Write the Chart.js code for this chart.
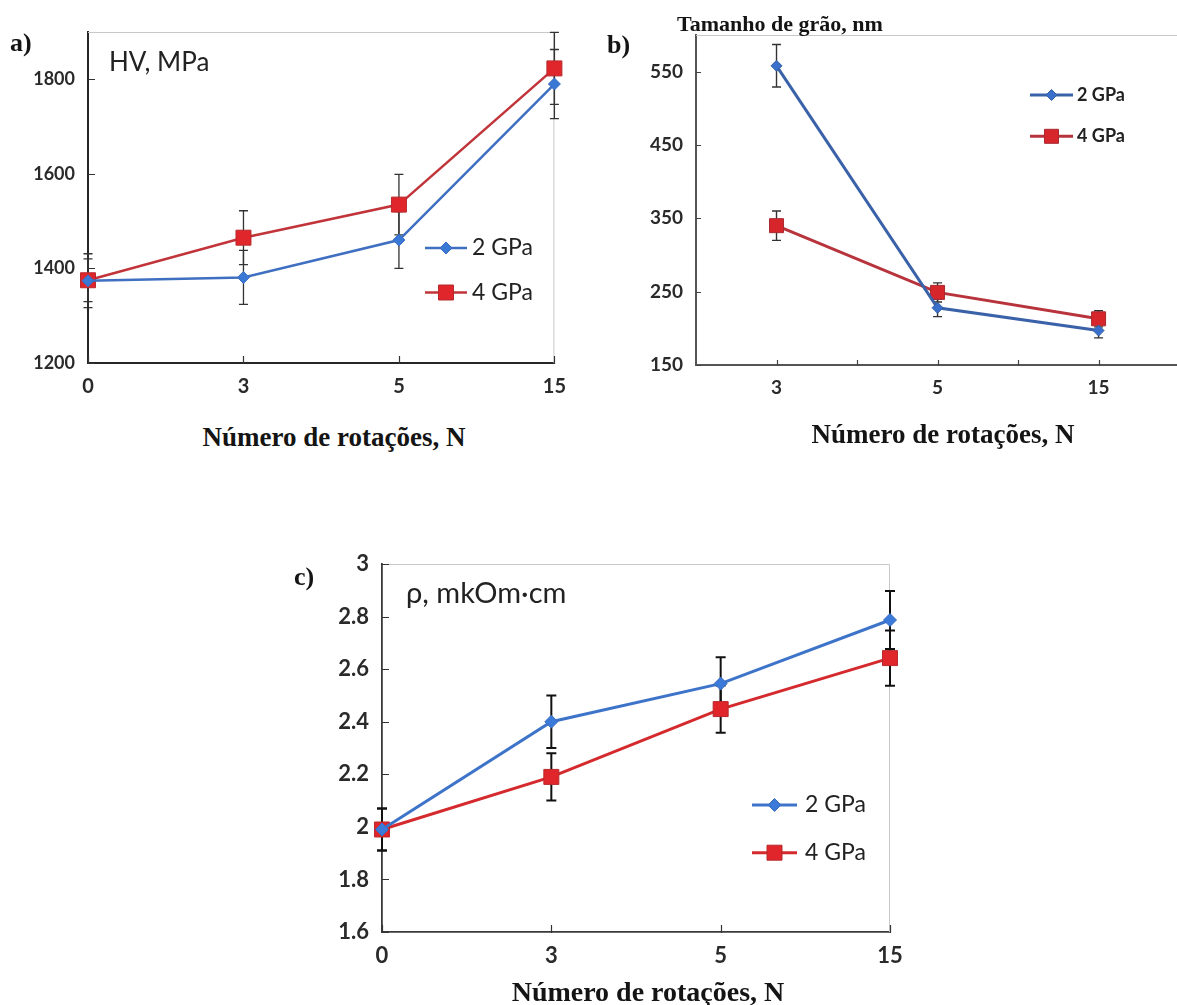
<!DOCTYPE html>
<html>
<head>
<meta charset="utf-8">
<title>HV, grain size and resistivity vs. number of rotations</title>
<script src="https://cdn.jsdelivr.net/npm/chart.js@4.4.1/dist/chart.umd.min.js"></script>
<style>
  html, body { margin: 0; padding: 0; background: #fff; overflow: hidden; }
  body { position: relative; width: 1177px; height: 1005px; }
  canvas { position: absolute; }
  .txt { position: absolute; white-space: nowrap; line-height: 1; }
  .serif { font-family: "Liberation Serif", "Times New Roman", serif; font-weight: bold; color: #141414; }
  .sans { font-family: Lato, "Open Sans", sans-serif; color: #222; }
  .center { transform: translateX(-50%); }
</style>
</head>
<body>

<canvas id="hvChart" width="580" height="420" style="left:0;top:0"></canvas>
<canvas id="grainChart" width="600" height="420" style="left:590px;top:0"></canvas>
<canvas id="rhoChart" width="640" height="440" style="left:280px;top:540px"></canvas>

<div class="txt serif" style="left:10px;top:30px;font-size:26px">a)</div>
<div class="txt sans" style="left:109px;top:48px;font-size:26px">HV, MPa</div>
<div class="txt serif center" style="left:334px;top:424px;font-size:27px">Número de rotações, N</div>

<div class="txt serif" style="left:607px;top:32px;font-size:26px">b)</div>
<div class="txt serif" style="left:677px;top:13px;font-size:22px">Tamanho de grão, nm</div>
<div class="txt serif center" style="left:943px;top:421px;font-size:27px">Número de rotações, N</div>

<div class="txt serif" style="left:294px;top:564px;font-size:26px">c)</div>
<div class="txt sans" style="left:406px;top:577px;font-size:29px">ρ, mkOm·cm</div>
<div class="txt serif center" style="left:648px;top:978px;font-size:28px">Número de rotações, N</div>

<script>
// number of rotations (category axis)
const rotations = ['0', '3', '5', '15'];
const rotationsGrain = ['3', '5', '15'];
const seriesNames = ['2 GPa', '4 GPa'];

// a) microhardness HV, MPa
const hv2 = [1374, 1381, 1460, 1790];
const hv2Err = [57, 57, 60, 73];
const hv4 = [1375, 1465, 1535, 1823];
const hv4Err = [45, 57, 64, 76];
const hvTicks = [1200, 1400, 1600, 1800];

// b) grain size, nm
const grain2 = [558, 228, 197];
const grain2Err = [29, 12, 10];
const grain4 = [340, 249, 213];
const grain4Err = [20, 13, 11];
const grainTicks = [150, 250, 350, 450, 550];

// c) resistivity, mkOm·cm
const rho2 = [1.99, 2.40, 2.545, 2.787];
const rho2Err = [0.08, 0.10, 0.10, 0.11];
const rho4 = [1.99, 2.19, 2.448, 2.642];
const rho4Err = [0.08, 0.09, 0.09, 0.105];
const rhoTicks = [1.6, 1.8, 2, 2.2, 2.4, 2.6, 2.8, 3];

function drawMarker(ctx, ds, px, py) {
  ctx.fillStyle = ds.pointBackgroundColor;
  ctx.strokeStyle = ds.pointBorderColor;
  ctx.lineWidth = ds.pointBorderWidth;
  Chart.helpers.drawPoint(ctx, {
    pointStyle: ds.pointStyle, radius: ds.pointRadius, rotation: 0, borderWidth: ds.pointBorderWidth
  }, px, py);
}

// frame, inner tick marks, error bars and the in-plot legend
const decor = {
  id: 'decor',
  beforeDatasetsDraw(chart, args, o) {
    const { ctx, chartArea: a } = chart;
    const x = chart.scales.x, y = chart.scales.y;
    ctx.save();

    ctx.strokeStyle = o.frameColor;
    ctx.lineWidth = 1;
    ctx.beginPath();
    ctx.moveTo(a.left, a.top + 0.5);
    ctx.lineTo(a.right - 0.5, a.top + 0.5);
    ctx.lineTo(a.right - 0.5, a.bottom);
    ctx.stroke();

    ctx.strokeStyle = o.tickColor;
    ctx.lineWidth = o.tickWidth;
    ctx.beginPath();
    y.ticks.forEach(t => {
      const py = Math.round(y.getPixelForValue(t.value)) + 0.5;
      ctx.moveTo(a.left, py);
      ctx.lineTo(a.left + o.tickLen, py);
    });
    const n = chart.data.labels.length;
    for (let i = 0; i < n; i++) {
      const px = Math.round(x.getPixelForValue(i)) + 0.5;
      ctx.moveTo(px, a.bottom + 1);
      ctx.lineTo(px, a.bottom - o.tickLen);
      if (o.midTicks && i < n - 1) {
        const pm = Math.round((x.getPixelForValue(i) + x.getPixelForValue(i + 1)) / 2) + 0.5;
        ctx.moveTo(pm, a.bottom + 1);
        ctx.lineTo(pm, a.bottom - o.tickLen);
      }
    }
    ctx.stroke();

    ctx.strokeStyle = o.errColor;
    ctx.lineWidth = o.errWidth;
    chart.data.datasets.forEach(ds => {
      ds.data.forEach((v, i) => {
        const e = ds.errors[i];
        const px = x.getPixelForValue(i);
        const yt = y.getPixelForValue(v + e);
        const yb = y.getPixelForValue(v - e);
        ctx.beginPath();
        ctx.moveTo(px, yt); ctx.lineTo(px, yb);
        ctx.moveTo(px - o.capHalf, yt); ctx.lineTo(px + o.capHalf, yt);
        ctx.moveTo(px - o.capHalf, yb); ctx.lineTo(px + o.capHalf, yb);
        ctx.stroke();
      });
    });
    ctx.restore();
  },
  afterDatasetsDraw(chart, args, o) {
    const L = o.legend;
    const ctx = chart.ctx;
    ctx.save();
    chart.data.datasets.forEach((ds, i) => {
      const ly = L.y + i * L.dy;
      ctx.strokeStyle = ds.borderColor;
      ctx.lineWidth = ds.borderWidth;
      ctx.beginPath();
      ctx.moveTo(L.x1, ly);
      ctx.lineTo(L.x2, ly);
      ctx.stroke();
      drawMarker(ctx, ds, (L.x1 + L.x2) / 2, ly);
      ctx.fillStyle = L.color;
      ctx.font = L.font;
      ctx.textAlign = 'left';
      ctx.textBaseline = 'middle';
      ctx.fillText(ds.label, L.tx, ly);
    });
    ctx.restore();
  }
};

function series(label, data, errors, s) {
  return {
    label, data, errors,
    borderColor: s.line, borderWidth: s.width,
    pointStyle: s.shape, pointRadius: s.radius, pointHoverRadius: s.radius,
    pointBackgroundColor: s.fill, pointBorderColor: s.edge, pointBorderWidth: 1,
    tension: 0, clip: false
  };
}

function makePanel(id, p) {
  const font = size => ({ family: 'Lato', size, weight: 'bold', lineHeight: 1 });
  new Chart(document.getElementById(id), {
    type: 'line',
    data: {
      labels: p.labels,
      datasets: [
        series(seriesNames[0], p.s2, p.e2, p.blue),
        series(seriesNames[1], p.s4, p.e4, p.red)
      ]
    },
    options: {
      responsive: false,
      animation: false,
      events: [],
      layout: { padding: { top: p.padTop, right: p.padRight, left: 0, bottom: 0 } },
      plugins: {
        legend: { display: false },
        tooltip: { enabled: false },
        decor: p.decor
      },
      scales: {
        x: {
          type: 'category',
          offset: p.offset,
          grid: { display: false, drawTicks: false },
          border: { display: true, color: p.axisColor, width: p.axisWidth },
          ticks: { font: font(p.xSize), color: '#2a2a2a', padding: p.xPad, maxRotation: 0 },
          afterFit: s => { s.height = p.xHeight; }
        },
        y: {
          min: p.min, max: p.max,
          grid: { display: false, drawTicks: false },
          border: { display: true, color: p.axisColor, width: p.axisWidth },
          ticks: { font: font(p.ySize), color: '#2a2a2a', padding: p.yPad, callback: v => String(v) },
          afterBuildTicks: s => { s.ticks = p.ticks.map(v => ({ value: v })); },
          afterFit: s => { s.width = p.yWidth; }
        }
      }
    },
    plugins: [decor]
  });
}

makePanel('hvChart', {
  labels: rotations, s2: hv2, e2: hv2Err, s4: hv4, e4: hv4Err,
  min: 1200, max: 1900, ticks: hvTicks, offset: false,
  padTop: 32, padRight: 25, yWidth: 88, xHeight: 57,
  xSize: 20, ySize: 18, xPad: 14, yPad: 13,
  axisColor: '#262626', axisWidth: 2,
  blue: { line: '#3f6fc0', width: 2.5, shape: 'rectRot', radius: 6, fill: '#3a78d6', edge: '#3a6cc0' },
  red: { line: '#c0343a', width: 2.5, shape: 'rect', radius: 10.6, fill: '#e0262a', edge: '#b82a2e' },
  decor: {
    frameColor: '#c8c8c8', tickColor: '#333', tickWidth: 1.2, tickLen: 7, midTicks: false,
    errColor: '#333', errWidth: 1.3, capHalf: 4.5,
    legend: { x1: 425, x2: 467, y: 248, dy: 44.5, tx: 472, font: '23px Lato', color: '#222' }
  }
});

makePanel('grainChart', {
  labels: rotationsGrain, s2: grain2, e2: grain2Err, s4: grain4, e4: grain4Err,
  min: 150, max: 600, ticks: grainTicks, offset: true,
  padTop: 35, padRight: 8, yWidth: 106, xHeight: 55,
  xSize: 19, ySize: 19, xPad: 13, yPad: 13,
  axisColor: '#555', axisWidth: 2,
  blue: { line: '#3a62a8', width: 3, shape: 'rectRot', radius: 5.5, fill: '#3a6fcc', edge: '#33609f' },
  red: { line: '#b8343c', width: 3, shape: 'rect', radius: 9.9, fill: '#d6262c', edge: '#a82a30' },
  decor: {
    frameColor: '#c8c8c8', tickColor: '#444', tickWidth: 1.2, tickLen: 5, midTicks: true,
    errColor: '#333', errWidth: 1.4, capHalf: 4.5,
    legend: { x1: 440, x2: 483, y: 95, dy: 41.3, tx: 487, font: 'bold 18px Lato', color: '#222' }
  }
});

makePanel('rhoChart', {
  labels: rotations, s2: rho2, e2: rho2Err, s4: rho4, e4: rho4Err,
  min: 1.6, max: 3, ticks: rhoTicks, offset: false,
  padTop: 24, padRight: 30, yWidth: 102, xHeight: 48,
  xSize: 22, ySize: 22, xPad: 13, yPad: 13,
  axisColor: '#3a3a3a', axisWidth: 1.8,
  blue: { line: '#3d74c9', width: 3, shape: 'rectRot', radius: 6.5, fill: '#3b7ad8', edge: '#3a6cc0' },
  red: { line: '#d42a2e', width: 3, shape: 'rect', radius: 10.6, fill: '#e0262a', edge: '#b82a2e' },
  decor: {
    frameColor: '#c8c8c8', tickColor: '#333', tickWidth: 1.2, tickLen: 7, midTicks: false,
    errColor: '#111', errWidth: 2, capHalf: 5,
    legend: { x1: 472, x2: 517, y: 265, dy: 47.7, tx: 525, font: '23px Lato', color: '#222' }
  }
});
</script>
</body>
</html>
